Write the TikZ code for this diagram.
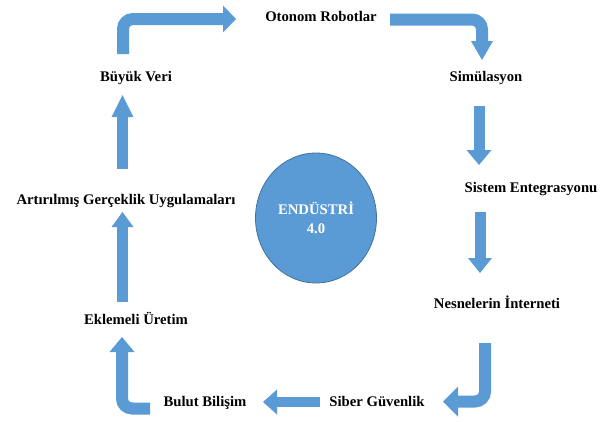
\documentclass[tikz,border=0pt]{standalone}
\usepackage{fontspec}
\setmainfont{Liberation Serif}
\usetikzlibrary{arrows.meta,shapes.geometric}
\definecolor{arrowblue}{RGB}{91,155,213}
\definecolor{rimblue}{RGB}{65,113,156}
\begin{document}
\begin{tikzpicture}[x=1pt,y=-1pt,
  stage/.style={font=\bfseries\fontsize{14.7}{18}\selectfont, text height=10pt, text depth=3pt, inner sep=0pt},
  flow/.style={draw=arrowblue, line width=11pt, rounded corners=10pt},
  headsize/.style 2 args={-{Triangle[length=#1,width=#2,line width=0pt]}},
  core/.style={ellipse, fill=arrowblue, draw=rimblue, line width=0.8pt, minimum width=121pt, minimum height=130pt,
    text=white, align=center, font=\bfseries\fontsize{14.7}{19}\selectfont}
]
\useasboundingbox (0,0) rectangle (611,421);
\fill[white] (0,0) rectangle (611,421);

% stages of the cycle
\node[stage] (oto) at (321,18)  {Otonom Robotlar};
\node[stage] (sim) at (486,78)  {Simülasyon};
\node[stage] (sis) at (531,189) {Sistem Entegrasyonu};
\node[stage] (nes) at (497,305) {Nesnelerin İnterneti};
\node[stage] (sib) at (377,403) {Siber Güvenlik};
\node[stage] (bul) at (205,403) {Bulut Bilişim};
\node[stage] (ekl) at (136,321) {Eklemeli Üretim};
\node[stage] (art) at (126,201) {Artırılmış Gerçeklik Uygulamaları};
\node[stage] (buy) at (136,78)  {Büyük Veri};

% centre
\node[core] (ind) at (316,218) {ENDÜSTRİ\\4.0};

% arrow end points
\coordinate (a1s) at (123,54);   \coordinate (a1e) at (236,19);
\coordinate (a2s) at (390,19.5); \coordinate (a2e) at (482,60);
\coordinate (a3s) at (479,106);  \coordinate (a3e) at (479,165);
\coordinate (a4s) at (480,212);  \coordinate (a4e) at (480,273);
\coordinate (a5s) at (485,343);  \coordinate (a5e) at (443,401.5);
\coordinate (a6s) at (320,402);  \coordinate (a6e) at (263,402);
\coordinate (a7s) at (150,408.5);\coordinate (a7e) at (122,337);
\coordinate (a8s) at (122.5,302);\coordinate (a8e) at (122.5,212);
\coordinate (a9s) at (122.5,169);\coordinate (a9e) at (122.5,95);

% block arrows
\draw[flow, line width=12pt, headsize={13pt}{27pt}] (a1s) |- (a1e);
\draw[flow, line width=12pt, headsize={19pt}{22pt}] (a2s) -| (a2e);
\draw[flow, headsize={15pt}{25pt}] (a3s) -- (a3e);
\draw[flow, headsize={15pt}{24pt}] (a4s) -- (a4e);
\draw[flow, line width=12pt, headsize={15pt}{30pt}] (a5s) |- (a5e);
\draw[flow, line width=10pt, headsize={14pt}{25pt}] (a6s) -- (a6e);
\draw[flow, line width=12pt, headsize={15pt}{25pt}] (a7s) -| (a7e);
\draw[flow, headsize={15pt}{22pt}] (a8s) -- (a8e);
\draw[flow, headsize={22pt}{22pt}] (a9s) -- (a9e);
\end{tikzpicture}
\end{document}
